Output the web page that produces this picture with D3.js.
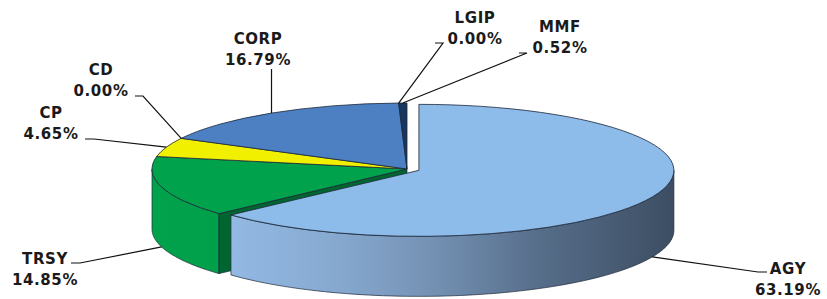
<!DOCTYPE html>
<html>
<head>
<meta charset="utf-8">
<script src="https://cdn.jsdelivr.net/npm/d3@7/dist/d3.min.js"></script>
<style>
  html, body { margin: 0; padding: 0; background: #ffffff; }
  svg { display: block; }
  .lbl { font-family: "DejaVu Sans", Verdana, sans-serif; font-weight: bold; font-size: 15px; fill: #1a1a1a; letter-spacing: 0.6px; }
</style>
</head>
<body>
<script>
// ---------- data ----------
const categories = ["AGY", "TRSY", "CP", "CD", "CORP", "LGIP", "MMF"];
const values = [63.19, 14.85, 4.65, 0.00, 16.79, 0.00, 0.52];
const topColors = ["#8dbbea", "#00a34c", "#f0f000", "#4f81bd", "#4c80c3", "#1f3a60", "#17375e"];
const exploded = ["AGY"];

// ---------- layout ----------
const W = 827, H = 299;
const cx = 407, cy = 169, rx = 255, ry = 66, depth = 60, explodeDist = 13;

// label placement: centre x, baseline of first line, leader elbow / end points
const labelLayout = {
  AGY:  { x: 788, y: 274, leader: [[758, 272], [767, 272]], anchor: "bottom" },
  TRSY: { x: 45,  y: 264, leader: [[80, 263], [71, 263]], anchor: "bottom" },
  CP:   { x: 51,  y: 118, leader: [[94, 139], [85, 139]], anchor: "top" },
  CD:   { x: 101, y: 75,  leader: [[143, 96], [135, 96]], anchor: "top" },
  CORP: { x: 258, y: 44,  leader: "vertical", top: 69, anchor: "top" },
  LGIP: { x: 475, y: 23,  leader: [[443, 43], [435, 43]], anchor: "top" },
  MMF:  { x: 560, y: 32,  leader: [[527, 53], [519, 53]], anchor: "top" }
};

const svg = d3.select("body").append("svg").attr("width", W).attr("height", H);
const defs = svg.append("defs");

const pie = d3.pie().sort(null).value(d => d.value).startAngle(0).endAngle(2 * Math.PI);
const data = categories.map((c, i) => ({ name: c, value: values[i], color: topColors[i] }));
const arcsData = pie(data);

arcsData.forEach(a => {
  const mid = (a.startAngle + a.endAngle) / 2;
  const isEx = exploded.includes(a.data.name);
  a.mid = mid;
  a.cx = cx + (isEx ? explodeDist * Math.sin(mid) : 0);
  a.cy = cy + (isEx ? -explodeDist * Math.cos(mid) * (ry / rx) : 0);
  a.ex = isEx;
});

const pt = (a, ang, dz) => [a.cx + rx * Math.sin(ang), a.cy - ry * Math.cos(ang) + (dz || 0)];

function sidePath(a) {
  const s = Math.max(a.startAngle, Math.PI / 2), e = Math.min(a.endAngle, 3 * Math.PI / 2);
  if (e <= s) return null;
  const n = 80, pts = [];
  for (let i = 0; i <= n; i++) pts.push(pt(a, s + (e - s) * i / n, 0));
  for (let i = n; i >= 0; i--) pts.push(pt(a, s + (e - s) * i / n, depth));
  return d3.line()(pts) + "Z";
}
function cutPath(a, ang) {
  const p = pt(a, ang, 0);
  return d3.line()([[a.cx, a.cy], p, [p[0], p[1] + depth], [a.cx, a.cy + depth]]) + "Z";
}

// gradients
const gA = defs.append("linearGradient").attr("id", "gAGY").attr("gradientUnits", "userSpaceOnUse")
  .attr("x1", 228).attr("x2", 676).attr("y1", 0).attr("y2", 0);
[[0, "#93bae4"], [0.25, "#86a8cf"], [0.45, "#7592b4"], [0.7, "#566d89"], [1, "#3c4d62"]]
  .forEach(s => gA.append("stop").attr("offset", s[0]).attr("stop-color", s[1]));
const gT = defs.append("linearGradient").attr("id", "gTRSY").attr("gradientUnits", "userSpaceOnUse")
  .attr("x1", 150).attr("x2", 230).attr("y1", 0).attr("y2", 0);
[[0, "#00a24a"], [1, "#00a04a"]].forEach(s => gT.append("stop").attr("offset", s[0]).attr("stop-color", s[1]));

const sideFill = { AGY: "url(#gAGY)", TRSY: "url(#gTRSY)" };
const strokeC = "#1c2738";

const arcGen = d3.arc().innerRadius(0).outerRadius(rx);

function drawSlices(list) {
  // sides
  list.forEach(a => {
    const p = sidePath(a);
    if (p && a.value > 0) svg.append("path").attr("d", p)
      .attr("fill", sideFill[a.data.name] || d3.color(a.data.color).darker(0.6))
      .attr("stroke", strokeC).attr("stroke-width", 0.7);
  });
  // visible cut faces (start faces in the front-left quadrant)
  list.forEach(a => {
    if (a.value <= 0) return;
    if (!a.ex && a.startAngle > Math.PI && a.startAngle < 1.5 * Math.PI) {
      svg.append("path").attr("d", cutPath(a, a.startAngle))
        .attr("fill", "#00652f").attr("stroke", strokeC).attr("stroke-width", 0.7);
    }
  });
  // tops
  list.forEach(a => {
    if (a.value <= 0) return;
    svg.append("g").attr("transform", `translate(${a.cx},${a.cy}) scale(1,${ry / rx})`)
      .append("path").attr("d", arcGen(a)).attr("fill", a.data.color)
      .attr("stroke", strokeC).attr("stroke-width", 0.8).attr("vector-effect", "non-scaling-stroke");
  });
}

drawSlices(arcsData.filter(a => !a.ex));
drawSlices(arcsData.filter(a => a.ex));

// ---------- labels and leaders ----------
arcsData.forEach(a => {
  const L = labelLayout[a.data.name];
  const anchor = pt(a, a.mid, L.anchor === "bottom" ? depth : 0);
  let pts;
  if (L.leader === "vertical") pts = [[anchor[0], anchor[1]], [anchor[0], L.top]];
  else pts = [anchor].concat(L.leader);
  svg.append("path").attr("d", d3.line()(pts)).attr("fill", "none")
    .attr("stroke", "#111").attr("stroke-width", 1.2);
  const t = svg.append("text").attr("class", "lbl").attr("text-anchor", "middle");
  t.append("tspan").attr("x", L.x).attr("y", L.y).text(a.data.name);
  t.append("tspan").attr("x", L.x).attr("y", L.y + 21).text(a.data.value.toFixed(2) + "%");
});
</script>
</body>
</html>
